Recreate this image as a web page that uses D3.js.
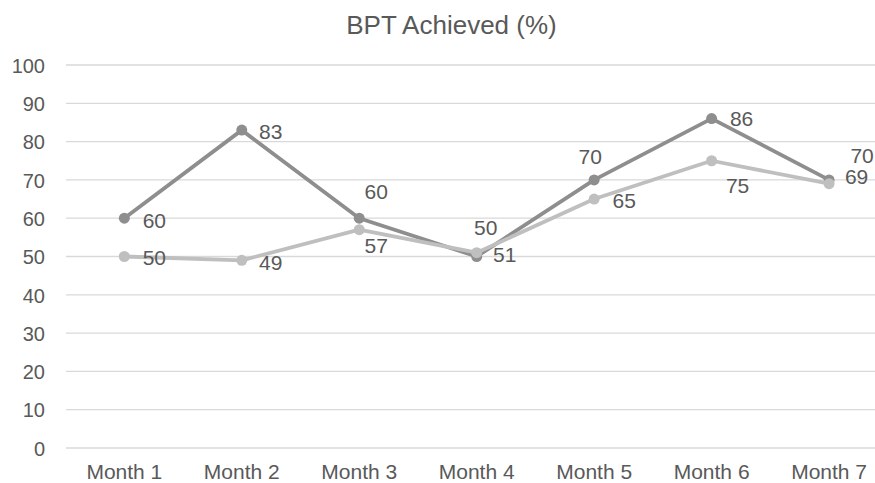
<!DOCTYPE html>
<html>
<head>
<meta charset="utf-8">
<script src="https://cdn.jsdelivr.net/npm/d3@7"></script>
<style>
  html, body { margin: 0; padding: 0; background: #fff; }
  svg { display: block; font-family: "Liberation Sans", Arial, sans-serif; }
</style>
</head>
<body>
<svg id="chart" width="875" height="483"></svg>
<script>
// Chart data
const months = ["Month 1", "Month 2", "Month 3", "Month 4", "Month 5", "Month 6", "Month 7"];
const seriesDark = [60, 83, 60, 50, 70, 86, 70];
const seriesLight = [50, 49, 57, 51, 65, 75, 69];
const yTicks = [0, 10, 20, 30, 40, 50, 60, 70, 80, 90, 100];
const chartTitle = "BPT Achieved (%)";

// Data label nudges (px) relative to each marker: [dx, dy of digit centre]
const darkLabelNudge = [[30, 2], [29, 1.5], [17, -27], [9, -29], [-4, -23], [30, 0], [33, -24]];
const lightLabelNudge = [[30, 0.7], [29, 2], [17, 16], [28, 1.5], [30, 1], [26, 25], [27.5, -7]];

const W = 875, H = 483;
const svg = d3.select("#chart");

const x = d3.scaleBand().domain(months).range([65.6, 887.8]);
const y = d3.scaleLinear().domain([0, 100]).range([448, 65]);
const cx = m => x(m) + x.bandwidth() / 2;

const textColor = "#595959";

// Title
svg.append("text")
  .attr("x", 451.5).attr("y", 34)
  .attr("text-anchor", "middle")
  .attr("font-size", 26)
  .attr("fill", textColor)
  .text(chartTitle);

// Horizontal gridlines
svg.append("g").selectAll("line").data(yTicks).join("line")
  .attr("x1", 66).attr("x2", W)
  .attr("y1", d => y(d)).attr("y2", d => y(d))
  .attr("stroke", "#d9d9d9").attr("stroke-width", 1.3);

// Y axis labels
const yAxis = d3.axisLeft(y).tickValues(yTicks).tickSize(0).tickPadding(0);
const gy = svg.append("g").attr("transform", "translate(45,0)").call(yAxis);
gy.select(".domain").remove();
gy.selectAll("text")
  .attr("font-size", 20)
  .attr("font-family", "Liberation Sans, Arial, sans-serif")
  .attr("fill", textColor)
  .attr("dy", "0.36em");

// X axis labels
const xAxis = d3.axisBottom(x).tickSize(0).tickPadding(0);
const gx = svg.append("g").attr("transform", "translate(0,460)").call(xAxis);
gx.select(".domain").remove();
gx.selectAll("text")
  .attr("font-size", 21)
  .attr("font-family", "Liberation Sans, Arial, sans-serif")
  .attr("fill", textColor)
  .attr("dy", "0.92em");

const line = d3.line().x((d, i) => cx(months[i])).y(d => y(d));

function drawSeries(values, color) {
  const g = svg.append("g");
  g.append("path").datum(values)
    .attr("d", line)
    .attr("fill", "none")
    .attr("stroke", color)
    .attr("stroke-width", 3.8)
    .attr("stroke-linejoin", "round");
  g.selectAll("circle").data(values).join("circle")
    .attr("cx", (d, i) => cx(months[i]))
    .attr("cy", d => y(d))
    .attr("r", 5.5)
    .attr("fill", color);
  return g;
}

function drawLabels(values, nudges) {
  svg.append("g").selectAll("text").data(values).join("text")
    .attr("x", (d, i) => cx(months[i]) + nudges[i][0])
    .attr("y", (d, i) => y(d) + nudges[i][1] + 7.5)
    .attr("text-anchor", "middle")
    .attr("font-size", 21)
    .attr("fill", textColor)
    .text(d => d);
}

drawSeries(seriesDark, "#8e8e8e");
drawSeries(seriesLight, "#bfbfbf");
drawLabels(seriesDark, darkLabelNudge);
drawLabels(seriesLight, lightLabelNudge);
</script>
</body>
</html>
